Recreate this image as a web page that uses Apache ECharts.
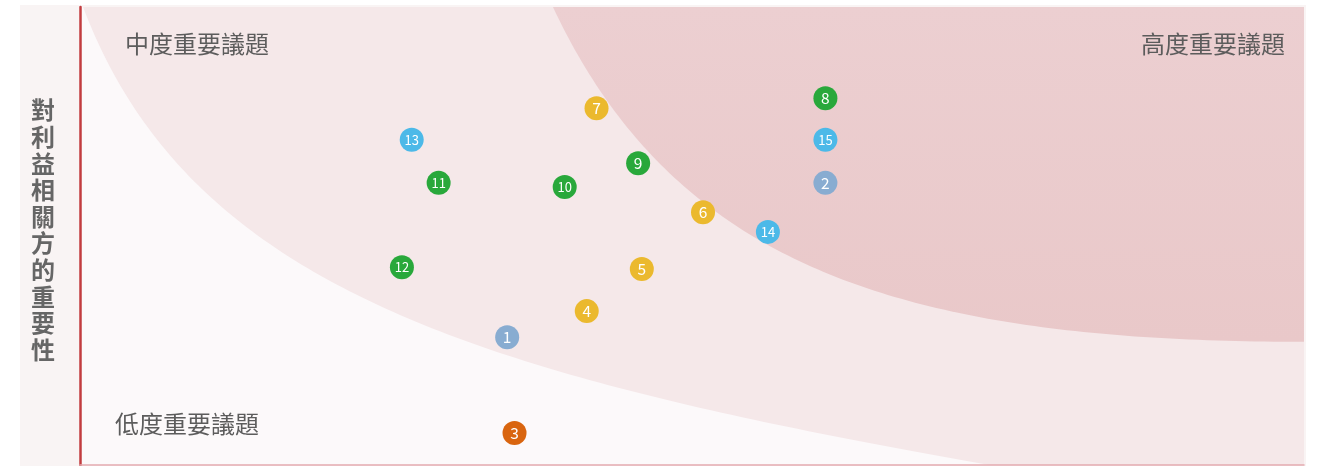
<!DOCTYPE html>
<html>
<head>
<meta charset="utf-8">
<script src="https://cdn.jsdelivr.net/npm/echarts@6/dist/echarts.min.js"></script>
<style>
html,body{margin:0;padding:0;background:#fff;}
#chart{width:1326px;height:466px;}
</style>
</head>
<body>
<div id="chart"></div>
<script>
// ---- data ----
const topicIds = ['1','2','3','4','5','6','7','8','9','10','11','12','13','14','15'];
const impactX = [34.9, 60.9, 35.5, 41.4, 45.9, 50.9, 42.2, 60.9, 45.6, 39.6, 29.3, 26.3, 27.1, 56.2, 60.9];
const stakeholderY = [27.9, 61.6, 7.0, 33.6, 42.8, 55.2, 77.9, 80.1, 65.9, 60.7, 61.6, 43.2, 71.0, 50.9, 71.0];
const topicGroup = ['g1','g1','g2','g3','g3','g3','g3','g4','g4','g4','g4','g4','g5','g5','g5'];
const yAxisName = '對利益相關方的重要性';
const zoneLabels = ['中度重要議題', '高度重要議題', '低度重要議題'];
// zone boundary curves: cubic Bezier control points (data coordinates)
const lowZoneCurve = [[0.25, 100], [8.99, 38.2], [32.7, 19.6], [74.3, 0]];
const lowZoneCorners = [[0, 0], [0, 100]];
const highZoneCurve = [[38.64, 100], [48.6, 43.2], [67.2, 26.9], [100, 26.9]];
const highZoneCorners = [[100, 100]];

const groupColors = {g1:'#88acd1', g2:'#d9650f', g3:'#ebb92e', g4:'#29a83b', g5:'#4cb9e8'};
const FONT = '"Noto Sans CJK TC", "Noto Sans", sans-serif';

const chart = echarts.init(document.getElementById('chart'), null, {renderer:'canvas'});

function bezierPoint(c, t) {
  const a = (1-t)*(1-t)*(1-t), b = 3*t*(1-t)*(1-t), d = 3*t*t*(1-t), e = t*t*t;
  return [a*c[0][0] + b*c[1][0] + d*c[2][0] + e*c[3][0],
          a*c[0][1] + b*c[1][1] + d*c[2][1] + e*c[3][1]];
}
function zoneSeries(curve, corners, fill) {
  return {
    type:'custom', z:1, silent:true, clip:true,
    data:[[0,0]],
    renderItem: function (params, api) {
      const pts = [];
      for (let i = 0; i <= 120; i++) pts.push(api.coord(bezierPoint(curve, i/120)));
      corners.forEach(p => pts.push(api.coord(p)));
      return {type:'polygon', shape:{points:pts}, style:{fill:fill}};
    }
  };
}

const scatterData = topicIds.map((id, i) => ({
  value: [impactX[i], stakeholderY[i]],
  name: id,
  itemStyle: {color: groupColors[topicGroup[i]]},
  label: {fontSize: id.length > 1 ? 13 : 15.5}
}));

const option = {
  backgroundColor: '#ffffff',
  animation: false,
  graphic: [
    {type:'rect', z:-10, shape:{x:20, y:5, width:1286, height:461}, style:{fill:'#f9f4f4'}},
    {type:'text', z:50, x:43, y:230, style:{text:yAxisName.split('').join('\n'), font:'bold 24px ' + FONT, lineHeight:26.6, fill:'#666666', verticalAlign:'middle', align:'center'}},
    {type:'text', z:50, x:125, y:44, style:{text:zoneLabels[0], font:'24px ' + FONT, fill:'#5c5c5c', verticalAlign:'middle', align:'left'}},
    {type:'text', z:50, x:1285, y:44, style:{text:zoneLabels[1], font:'24px ' + FONT, fill:'#5c5c5c', verticalAlign:'middle', align:'right'}},
    {type:'text', z:50, x:115, y:424, style:{text:zoneLabels[2], font:'24px ' + FONT, fill:'#5c5c5c', verticalAlign:'middle', align:'left'}}
  ],
  grid: {left:80, right:22, top:7, bottom:1, show:true, backgroundColor:'#f5e8e9', borderWidth:0},
  xAxis: {
    type:'value', min:0, max:100, z:10,
    axisLine:{show:true, lineStyle:{color:'#e3abb0', width:1.5}},
    axisTick:{show:false}, axisLabel:{show:false}, splitLine:{show:false}
  },
  yAxis: {
    type:'value', min:0, max:100, z:10,
    axisLine:{show:true, lineStyle:{color:'#c23c3f', width:2.5}},
    axisTick:{show:false}, axisLabel:{show:false}, splitLine:{show:false}
  },
  series: [
    zoneSeries(lowZoneCurve, lowZoneCorners, '#fcf9fa'),
    zoneSeries(highZoneCurve, highZoneCorners, {type:'linear', x:0, y:0, x2:0, y2:1, colorStops:[{offset:0,color:'#eccfd1'},{offset:1,color:'#e9c8c9'}]}),
    {
      type:'scatter', z:5, symbolSize:24,
      data: scatterData,
      itemStyle:{opacity:1},
      label:{show:true, position:'inside', formatter:'{b}', color:'#ffffff', fontFamily:FONT}
    }
  ]
};
chart.setOption(option);
</script>
</body>
</html>
